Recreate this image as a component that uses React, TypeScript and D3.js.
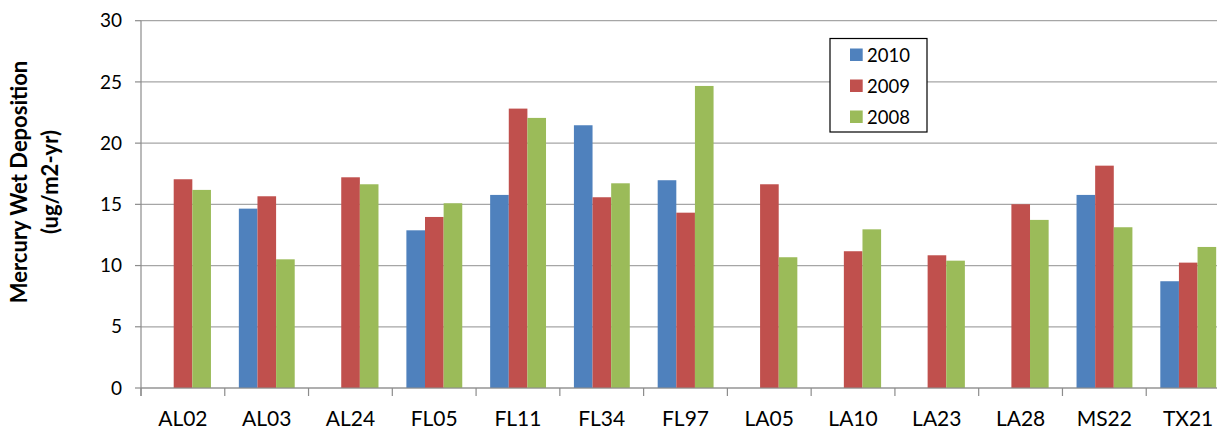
import React from "react";
import * as d3 from "d3";

const categories = ["AL02", "AL03", "AL24", "FL05", "FL11", "FL34", "FL97", "LA05", "LA10", "LA23", "LA28", "MS22", "TX21"];
const series2010: (number | null)[] = [null, 14.65, null, 12.88, 15.77, 21.46, 16.97, null, null, null, null, 15.77, 8.72];
const series2009: (number | null)[] = [17.05, 15.66, 17.21, 13.97, 22.82, 15.58, 14.32, 16.64, 11.17, 10.84, 15.01, 18.16, 10.24];
const series2008: (number | null)[] = [16.18, 10.51, 16.64, 15.09, 22.06, 16.72, 24.67, 10.68, 12.96, 10.4, 13.73, 13.13, 11.52];
const seriesNames = ["2010", "2009", "2008"];
const seriesColors = ["#4F81BD", "#C0504D", "#9BBB59"];
const yTicks = [0, 5, 10, 15, 20, 25, 30];

const allSeries = [series2010, series2009, series2008];

const W = 1217;
const H = 429;
const left = 141;
const right = 1230;
const top = 20.7;
const bottom = 388;
const font = "Lato, 'Open Sans', sans-serif";

export default function App() {
  const x = d3.scaleBand<string>().domain(categories).range([left, right]).paddingInner(0).paddingOuter(0);
  const step = x.bandwidth();
  const xs = d3
    .scaleBand<string>()
    .domain(seriesNames)
    .range([step * 0.168, step * 0.835])
    .padding(0);
  const y = d3.scaleLinear().domain([0, 30]).range([bottom, top]);

  const boundaries = d3.range(categories.length + 1).map((i) => left + i * step);

  return (
    <svg width={W} height={H} style={{ position: "absolute", left: 0, top: 0, background: "#fff" }}>
      {/* gridlines */}
      {yTicks.map((t) => (
        <line key={"g" + t} x1={left} x2={right} y1={y(t)} y2={y(t)} stroke="#A6A6A6" strokeWidth={1.2} />
      ))}
      {/* bars */}
      {allSeries.map((s, si) =>
        s.map((v, ci) =>
          v == null ? null : (
            <rect
              key={`b${si}-${ci}`}
              x={(x(categories[ci]) as number) + (xs(seriesNames[si]) as number)}
              y={y(v)}
              width={xs.bandwidth()}
              height={bottom - y(v)}
              fill={seriesColors[si]}
            />
          )
        )
      )}
      {/* axes */}
      <line x1={left} x2={left} y1={top} y2={bottom + 8} stroke="#8C8C8C" strokeWidth={1.2} />
      <line x1={left} x2={right} y1={bottom} y2={bottom} stroke="#8C8C8C" strokeWidth={1.2} />
      {yTicks.map((t) => (
        <line key={"yt" + t} x1={left - 6} x2={left} y1={y(t)} y2={y(t)} stroke="#8C8C8C" strokeWidth={1.2} />
      ))}
      {boundaries.map((b, i) => (
        <line key={"xt" + i} x1={b} x2={b} y1={bottom} y2={bottom + 8} stroke="#8C8C8C" strokeWidth={1.2} />
      ))}
      {/* y tick labels */}
      {yTicks.map((t) => (
        <text
          key={"yl" + t}
          x={122}
          y={y(t)}
          dy="0.35em"
          textAnchor="end"
          fontFamily={font}
          fontSize={19}
          fill="#000"
        >
          {t}
        </text>
      ))}
      {/* x labels */}
      {categories.map((c) => (
        <text
          key={"xl" + c}
          x={(x(c) as number) + step / 2}
          y={426}
          textAnchor="middle"
          fontFamily={font}
          fontSize={21}
          fill="#000"
        >
          {c}
        </text>
      ))}
      {/* y axis title */}
      <text
        transform={`translate(27,182) rotate(-90)`}
        textAnchor="middle"
        fontFamily={font}
        fontSize={22}
        fontWeight="bold"
        fill="#000"
      >
        Mercury Wet Deposition
      </text>
      <text
        transform={`translate(58,182) rotate(-90)`}
        textAnchor="middle"
        fontFamily={font}
        fontSize={22}
        fontWeight="bold"
        fill="#000"
      >
        (ug/m2-yr)
      </text>
      {/* legend */}
      <rect x={830} y={38.5} width={97} height={93.5} fill="#fff" stroke="#000" strokeWidth={1.2} />
      {seriesNames.map((n, i) => (
        <g key={"lg" + n} transform={`translate(850,${48.5 + i * 31})`}>
          <rect x={0} y={0} width={12.7} height={12.5} fill={seriesColors[i]} />
          <text x={17} y={6.5} dy="0.36em" fontFamily={font} fontSize={18.5} fill="#000">
            {n}
          </text>
        </g>
      ))}
    </svg>
  );
}
